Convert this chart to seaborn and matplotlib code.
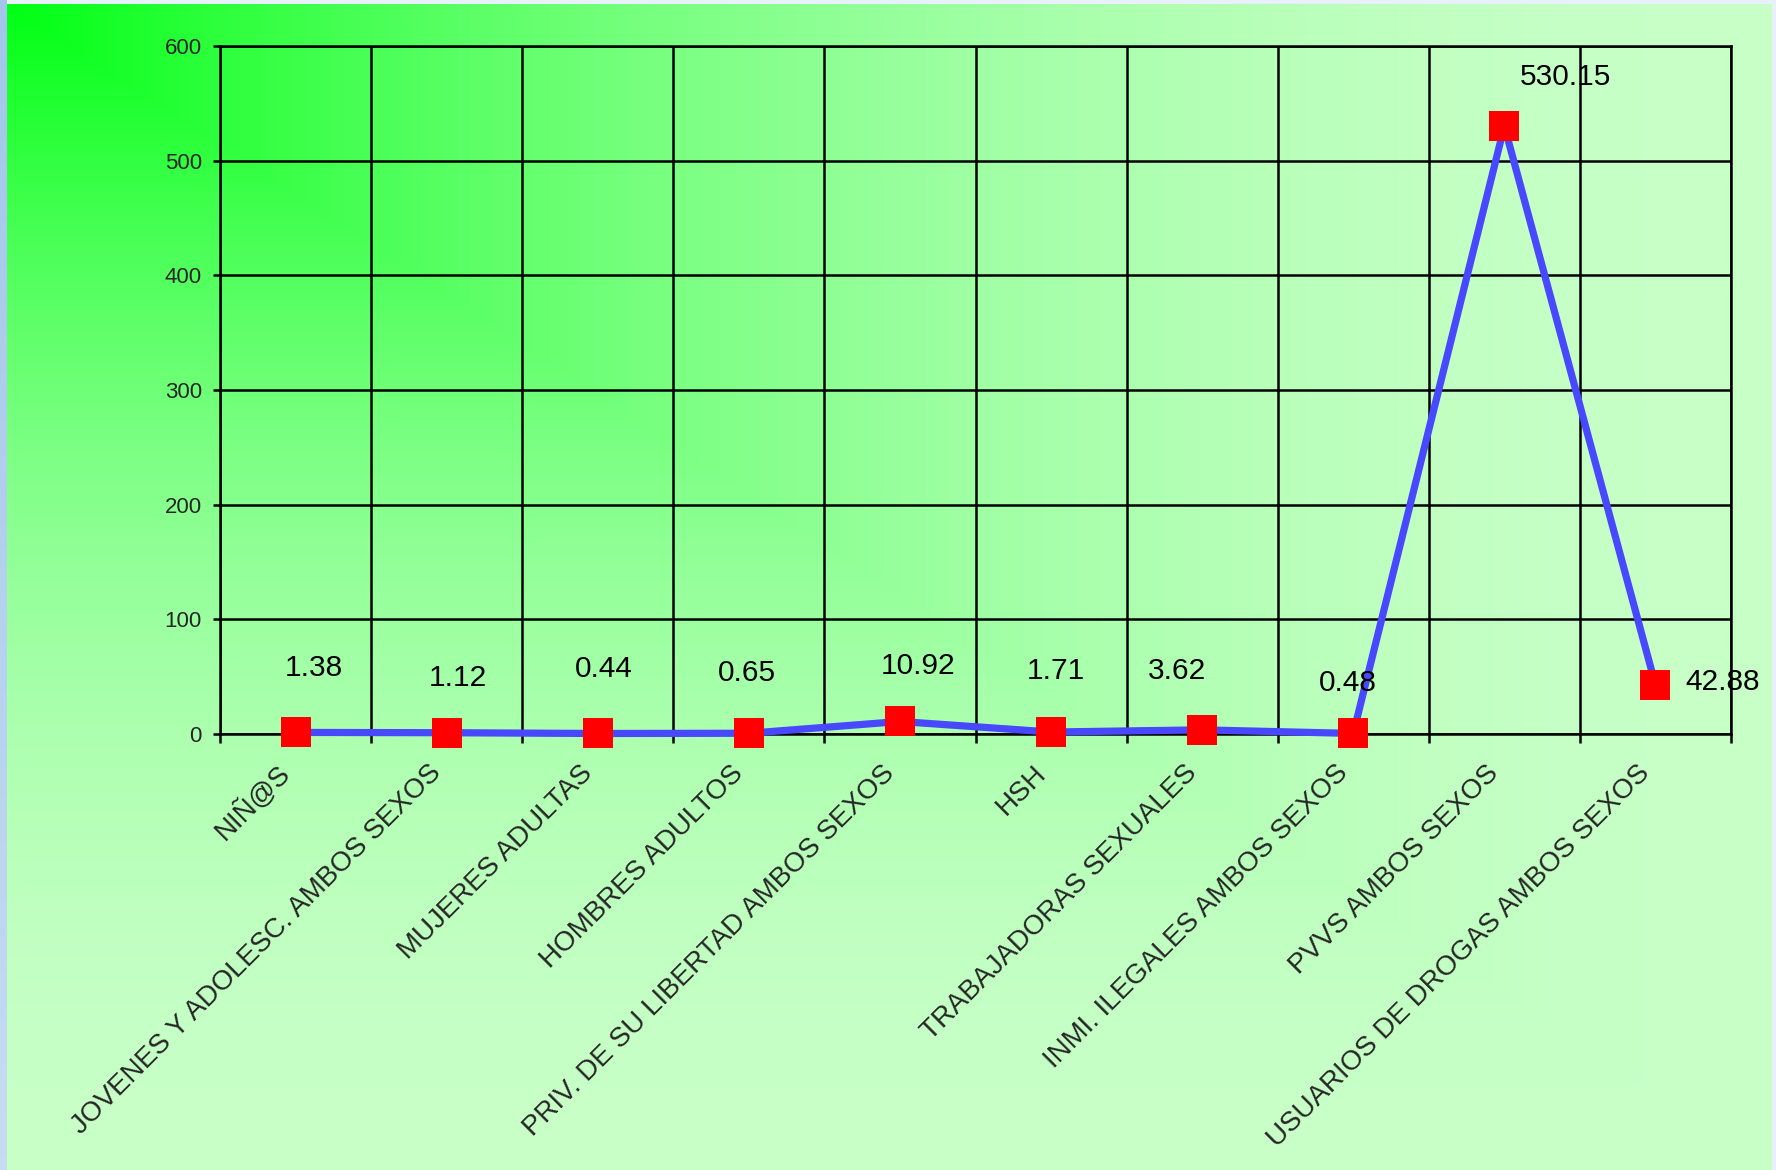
import numpy as np
import pandas as pd
import matplotlib
matplotlib.use("Agg")
import matplotlib.pyplot as plt
import seaborn as sns

# datos del grafico
grupos = ["NIÑ@S", "JOVENES Y ADOLESC. AMBOS SEXOS", "MUJERES ADULTAS",
          "HOMBRES ADULTOS", "PRIV. DE SU LIBERTAD AMBOS SEXOS", "HSH",
          "TRABAJADORAS SEXUALES", "INMI. ILEGALES AMBOS SEXOS",
          "PVVS AMBOS SEXOS", "USUARIOS DE DROGAS AMBOS SEXOS"]
valores = [1.38, 1.12, 0.44, 0.65, 10.92, 1.71, 3.62, 0.48, 530.15, 42.88]
y_ticks = [0, 100, 200, 300, 400, 500, 600]

# desplazamiento de las etiquetas de datos (pixeles)
desplaz = [(18, 64), (11, 55), (6, 64), (-2, 60), (18, 55), (5, 61),
           (-25, 59), (-5, 50), (61, 49), (67, 3)]

df = pd.DataFrame({"grupo": grupos, "valor": valores})

sns.set_theme(style="white")
plt.rcParams["font.family"] = ["Liberation Sans", "DejaVu Sans"]

W, H = 1776, 1170
fig = plt.figure(figsize=(W / 100, H / 100), dpi=100)
fig.patch.set_facecolor("#e8f0f9")

# franja azul a la izquierda
strip = fig.add_axes([0, 0, 7 / W, 1])
grad_s = np.linspace(0, 1, 100)[:, None]
strip.imshow(grad_s, aspect="auto", cmap=matplotlib.colors.LinearSegmentedColormap.from_list(
    "s", ["#a2c6ea", "#c6dcf2"]), extent=[0, 1, 0, 1], origin="upper")
strip.axis("off")

# fondo degradado verde "desde la esquina" (contornos rectangulares)
pw, ph = 1764, 1166
bg = fig.add_axes([7 / W, 0, pw / W, ph / H])
xx, yy = np.meshgrid(np.arange(pw) / pw, np.arange(ph) / ph)
u = np.maximum(xx, yy)
t = 1 - (1 - u) ** 2
c0 = np.array([0x00, 0xff, 0x14]) / 255
c1 = np.array([0xc8, 0xff, 0xc8]) / 255
img = c0[None, None, :] + (c1 - c0)[None, None, :] * t[:, :, None]
bg.imshow(img, aspect="auto", interpolation="bilinear")
bg.axis("off")

ax = fig.add_axes([220 / W, 1 - 734 / H, (1731 - 220) / W, (734 - 46) / H])
ax.set_facecolor("none")

sns.lineplot(data=df, x="grupo", y="valor", ax=ax, color="#4848ff",
             linewidth=5.2, sort=False, zorder=3, clip_on=False)
sns.scatterplot(data=df, x="grupo", y="valor", ax=ax, marker="s",
                color="#ff0000", s=490, linewidth=0, zorder=4, clip_on=False)

for i, v in enumerate(valores):
    ax.annotate(f"{v:.2f}", (i, v), xytext=desplaz[i], textcoords="offset pixels",
                ha="center", va="center", fontsize=21.5, color="black", zorder=5)

ax.set_xlim(-0.5, len(grupos) - 0.5)
ax.set_ylim(0, 600)
ax.set_yticks(y_ticks)
ax.set_xticks(range(len(grupos)))
ax.set_xticks(np.arange(len(grupos) + 1) - 0.5, minor=True)
ax.set_xticklabels(grupos, rotation=45, ha="right", va="bottom",
                   rotation_mode="anchor", fontsize=20)
ax.set_xlabel("")
ax.set_ylabel("")

ax.grid(False)
ax.grid(True, axis="y", which="major", color="black", linewidth=1.8)
ax.grid(True, axis="x", which="minor", color="black", linewidth=1.8)
ax.tick_params(axis="x", which="major", length=0, pad=32)
ax.tick_params(axis="x", which="minor", length=6.5, width=1.8, color="black",
               direction="out", bottom=True)
ax.tick_params(axis="y", which="major", length=5, width=1.8, color="black",
               direction="out", left=True, labelsize=16, pad=8)
for s in ax.spines.values():
    s.set_color("black")
    s.set_linewidth(1.8)
ax.set_axisbelow(True)

fig.savefig("out.png", dpi=100, facecolor=fig.get_facecolor())
